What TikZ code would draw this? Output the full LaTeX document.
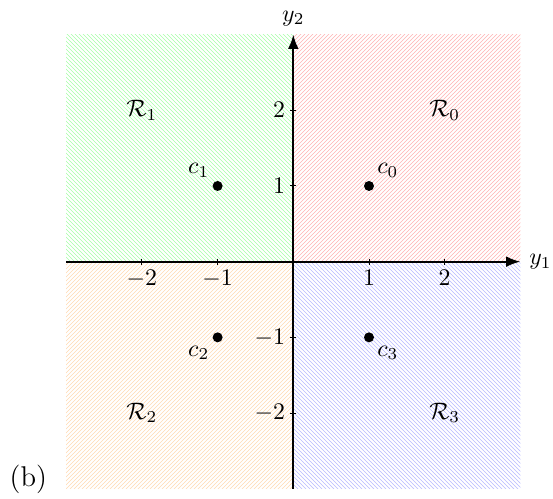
\documentclass[tikz,border=0pt]{standalone}
\usetikzlibrary{patterns.meta,arrows.meta}
\begin{document}
\begin{tikzpicture}[x=1.1176cm,y=1.1176cm,
  hatchA/.style={pattern={Lines[angle=45,distance=1.1881pt,line width=0.25pt]}},
  hatchB/.style={pattern={Lines[angle=-45,distance=1.1881pt,line width=0.25pt]}},
  axis/.style={thick,-{Latex[length=6pt,width=4.5pt]}},
  tick/.style={thin},
  pt/.style={circle,fill=black,inner sep=0pt,minimum size=4.2pt},
  reg/.style={inner sep=0pt}]
\useasboundingbox (-3.875,-3.135) rectangle (3.431,3.457);
% shaded quadrants
\fill[hatchA,pattern color=red!30] (0,0) rectangle (3,3);
\fill[hatchB,pattern color=green!35] (-3,0) rectangle (0,3);
\fill[hatchA,pattern color=orange!30] (-3,-3) rectangle (0,0);
\fill[hatchB,pattern color=blue!28] (0,-3) rectangle (3,0);
% axes
\coordinate (xs) at (-3,0);
\coordinate (xe) at (3,0);
\coordinate (ys) at (0,-3);
\coordinate (ye) at (0,3);
\draw[axis] (xs) -- (xe) node[right] (ylab1) {$y_1$};
\draw[axis] (ys) -- (ye) node[above] (ylab2) {$y_2$};
% ticks
\foreach \v in {-2,-1,1,2}{
  \draw[tick] (\v,0.04) -- (\v,-0.04) node[below,inner sep=2pt] (xt\v) {$\v$};
  \draw[tick] (0.04,\v) -- (-0.04,\v) node[left,inner sep=2pt] (yt\v) {$\v$};
}
% points
\node[pt] (c0) at (1,1) {};
\node[pt] (c1) at (-1,1) {};
\node[pt] (c2) at (-1,-1) {};
\node[pt] (c3) at (1,-1) {};
\node[above right=0pt] (lc0) at (c0) {$c_0$};
\node[above left=0pt] (lc1) at (c1) {$c_1$};
\node[below left=0pt] (lc2) at (c2) {$c_2$};
\node[below right=0pt] (lc3) at (c3) {$c_3$};
% regions
\node[reg] (R0) at (2,2) {$\mathcal{R}_0$};
\node[reg] (R1) at (-2,2) {$\mathcal{R}_1$};
\node[reg] (R2) at (-2,-2) {$\mathcal{R}_2$};
\node[reg] (R3) at (2,-2) {$\mathcal{R}_3$};
% caption label
\node (lab) at (-3.5,-2.87) {\large (b)};
\end{tikzpicture}
\end{document}
